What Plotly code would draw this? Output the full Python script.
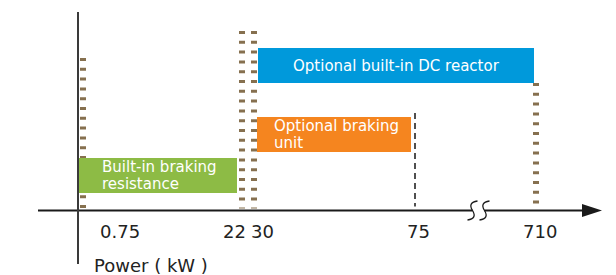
import numpy as np
import plotly.graph_objects as go

# ---------------- data ----------------
power_kw = [0.75, 22, 30, 75, 710]
tick_labels = ["0.75", "22", "30", "75", "710"]
axis_title = "Power ( kW )"

bar_labels = ["Built-in braking<br>resistance", "Optional braking<br>unit", "Optional built-in DC reactor"]
bar_start_kw = [0.75, 30, 30]
bar_end_kw = [22, 75, 710]
bar_row = [1, 2, 3]

marker_kw = [0.75, 22, 30, 75, 710]
marker_kind = ["dot", "dot", "dot", "dash", "dot"]

# ---------------- layout / style ----------------
W, H = 616, 275
# schematic broken power scale: kW -> horizontal position
SCALE_PX = [83, 242, 254, 415, 536]


def sx(kw):
    return float(np.interp(kw, power_kw, SCALE_PX))


# rows -> vertical position (top of bar)
ROW_TOP = {1: 158, 2: 117, 3: 48}
BAR_H = 35
AXIS_Y = 210.5
AXIS_X = 78
bar_colors = ["#8DBB45", "#F5851F", "#0099DB"]
bar_pad_l = [-4, 3, 4]
bar_pad_r = [-5, -4, -2]
text_pad = [21, 15, None]
marker_top = [58, 31, 31, 113, 83]
label_shift = [37, -8, 8, 3, 4]
BROWN = "#86704F"
FONT = "DejaVu Sans"

fig = go.Figure()

# bars
for i, lab in enumerate(bar_labels):
    x0 = sx(bar_start_kw[i]) + bar_pad_l[i]
    x1 = sx(bar_end_kw[i]) + bar_pad_r[i]
    top = ROW_TOP[bar_row[i]]
    fig.add_trace(go.Bar(
        orientation="h", base=[x0], x=[x1 - x0], y=[top + BAR_H / 2],
        width=BAR_H, marker=dict(color=bar_colors[i], line=dict(width=0)),
        hoverinfo="skip", showlegend=False))
    lines = lab.split("<br>")
    if text_pad[i] is None:
        fig.add_annotation(x=(x0 + x1) / 2, y=top + BAR_H / 2, text=lab,
                           showarrow=False, xanchor="center", yanchor="middle",
                           font=dict(family=FONT, size=15, color="white"))
    else:
        n = len(lines)
        for j, ln in enumerate(lines):
            yc = top + BAR_H / 2 + (j - (n - 1) / 2) * 16.5
            fig.add_annotation(x=x0 + text_pad[i], y=yc, text=ln, showarrow=False,
                               xanchor="left", yanchor="middle",
                               font=dict(family=FONT, size=15, color="white"))

# vertical marker lines (below bars), drawn from top down so the pattern starts at the top
for k, kw in enumerate(marker_kw):
    if marker_kind[k] == "dot":
        line = dict(color=BROWN, width=6, dash="3px,6.8px")
        yb = AXIS_Y - 2
    else:
        line = dict(color="#505050", width=2, dash="6px,4px")
        yb = AXIS_Y - 4
    fig.add_shape(type="line", xref="x", yref="y", x0=sx(kw), x1=sx(kw),
                  y0=marker_top[k], y1=yb, line=line, layer="below")

# axes (schematic)
brk = (sx(75) + sx(710)) / 2 + 3
fig.add_shape(type="line", xref="x", yref="y", x0=38, x1=brk - 6, y0=AXIS_Y, y1=AXIS_Y,
              line=dict(color="#1a1a1a", width=2), layer="above")
fig.add_shape(type="line", xref="x", yref="y", x0=brk + 6, x1=585, y0=AXIS_Y, y1=AXIS_Y,
              line=dict(color="#1a1a1a", width=2), layer="above")
fig.add_shape(type="path", xref="x", yref="y",
              path=f"M 582 {AXIS_Y-6.5} L 602 {AXIS_Y} L 582 {AXIS_Y+6.5} Z",
              fillcolor="#1a1a1a", line=dict(width=0), layer="above")
for cx in (brk - 6, brk + 6):
    fig.add_shape(type="path", xref="x", yref="y",
                  path=f"M {cx+5} {AXIS_Y-9.5} Q {cx-5} {AXIS_Y-8} {cx} {AXIS_Y} T {cx-5} {AXIS_Y+9.5}",
                  line=dict(color="#1a1a1a", width=1.3), layer="above")
fig.add_shape(type="line", xref="x", yref="y", x0=AXIS_X, x1=AXIS_X, y0=12, y1=264,
              line=dict(color="#3a3a3a", width=2), layer="above")

# tick labels
for k, kw in enumerate(power_kw):
    fig.add_annotation(x=sx(kw) + label_shift[k], y=AXIS_Y + 21, text=tick_labels[k],
                       showarrow=False, xanchor="center", yanchor="middle",
                       font=dict(family=FONT, size=18, color="#222222"))
fig.add_annotation(x=92, y=265, text=axis_title, showarrow=False, xanchor="left",
                   yanchor="middle", font=dict(family=FONT, size=18, color="#222222"))

fig.update_layout(
    width=W, height=H, margin=dict(l=0, r=0, t=0, b=0),
    paper_bgcolor="white", plot_bgcolor="white", bargap=0,
    xaxis=dict(range=[0, W], visible=False, fixedrange=True),
    yaxis=dict(range=[H, 0], visible=False, fixedrange=True),
    showlegend=False,
)

fig.write_html("out.html", config={"displayModeBar": False},
               post_script="document.body.style.margin='0';document.body.style.overflow='hidden';")
